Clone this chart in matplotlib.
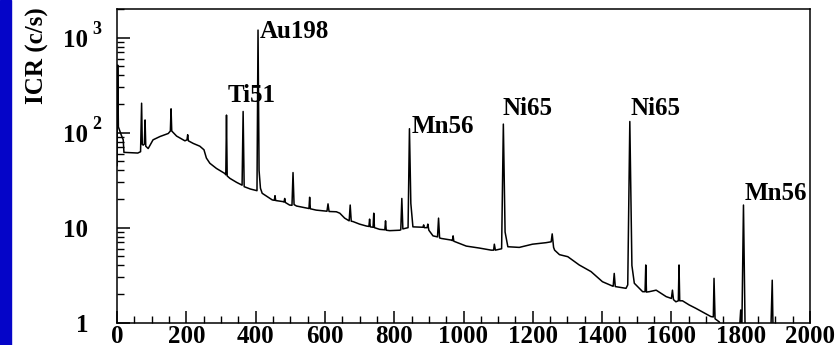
import matplotlib
matplotlib.use("Agg")
import matplotlib.pyplot as plt
from matplotlib.ticker import MultipleLocator, LogLocator, NullFormatter
from matplotlib.transforms import blended_transform_factory, offset_copy
from matplotlib.patches import Rectangle

plt.rcParams['font.family'] = ['Liberation Serif', 'DejaVu Serif']
plt.rcParams['font.weight'] = 'bold'

# spectrum: channel, count rate (c/s)
channel = [
    0, 2, 4, 12, 18, 20, 60, 68, 71, 73, 76, 79, 81, 83, 90, 104, 124, 148,
    154, 156, 158, 172, 196, 202, 204, 206, 220, 239, 251, 258, 268, 287, 311,
    314, 316, 318, 326, 345, 361, 364, 367, 385, 404, 407, 410, 414, 419, 448,
    454, 456, 458, 479, 482, 484, 486, 498, 505, 508, 511, 518, 551, 554, 556,
    558, 575, 606, 609, 612, 633, 643, 657, 670, 673, 676, 681, 700, 720, 727,
    729, 731, 739, 741, 743, 758, 773, 775, 777, 787, 816, 819, 822, 825, 840,
    844, 848, 854, 883, 885, 887, 895, 897, 900, 912, 925, 928, 931, 936, 965,
    968, 970, 972, 1008, 1046, 1080, 1087, 1089, 1092, 1110, 1115, 1120, 1128,
    1161, 1199, 1238, 1253, 1256, 1260, 1263, 1277, 1301, 1334, 1368, 1401,
    1430, 1432, 1435, 1438, 1469, 1474, 1480, 1486, 1493, 1517, 1524, 1526,
    1528, 1536, 1556, 1585, 1600, 1603, 1606, 1613, 1620, 1622, 1624, 1632,
    1651, 1670, 1689, 1714, 1721, 1723, 1726, 1738, 1750, 1795, 1800, 1803,
    1808, 1813, 1886, 1891, 1894, 2000,
]
counts = [
    45, 515, 115, 95, 84, 62, 61, 63, 204, 75, 74, 76, 136, 72, 68, 84, 91, 98,
    104, 178, 104, 92, 82, 84, 95, 82, 77, 72, 66, 54, 47.6, 42, 37.2,
    36, 153, 35, 33, 30, 28, 167, 27, 25.5, 24.5, 1200, 40, 26, 23, 19.6,
    19.4, 21.7, 19.3, 18.8, 18.6, 20.3, 18.4, 17.3, 17.2, 38, 17.5, 16.9, 16, 15.9, 20.9,
    15.8, 15.3, 14.9, 17.8, 14.8, 14.7, 14.2, 12.6, 11.8, 17.3, 11.7, 11.6, 10.9, 10.4, 10.3,
    12.3, 10.2, 10.1, 14.2, 10, 9.6, 9.5, 11.8, 9.4, 9.3, 9.4, 9.5, 20.3, 9.7, 10,
    110, 18, 10.2, 10.1, 10.7, 10, 10, 10.9, 9.4, 8.2, 8, 12.6, 7.8, 7.7, 7.4,
    7.3, 8.2, 7.2, 6.4, 6.1, 5.8, 5.8, 6.7, 5.8, 6.0, 123, 9, 6.3,
    6.2, 6.7, 6.95, 7.1, 8.6, 6.2, 5.8, 5.2, 4.95, 4.05, 3.45, 2.7,
    2.43, 2.42, 3.3, 2.4, 2.3, 2.5, 131, 4, 2.6, 2.12, 2.12, 4.05,
    2.1, 2.12, 2.2, 1.88, 1.8, 2.2, 1.75, 1.66, 1.7, 4.05, 1.7, 1.7,
    1.54, 1.42, 1.3, 1.16, 1.15, 2.93, 1.1, 1.02, 0.8, 0.7, 1.36, 0.7,
    17.3, 0.7, 0.6, 2.8, 0.6, 0.5,
]

# isotope labels
iso_names = ['Ti51', 'Au198', 'Mn56', 'Ni65', 'Ni65', 'Mn56']
iso_x = [320, 412, 849, 1113, 1483, 1810]
iso_y = [212, 993, 98.6, 153, 153, 19.6]

y_ticks = [1, 10, 100, 1000]
y_bases = ['1', '10', '10', '10']
y_exps = ['', '', '2', '3']

fig = plt.figure(figsize=(8.4, 3.45), dpi=100)
ax = fig.add_axes([117 / 840, 1 - 322.7 / 345, (810 - 117) / 840, (322.7 - 9) / 345])

ax.plot(channel, counts, color='black', lw=1.1)

ax.set_yscale('log')
ax.set_xlim(0, 2000)
ax.set_ylim(1, 2000)

for sp in ax.spines.values():
    sp.set_linewidth(1.1)

ax.xaxis.set_major_locator(MultipleLocator(200))
ax.xaxis.set_minor_locator(MultipleLocator(50))
ax.yaxis.set_major_locator(LogLocator(base=10, numticks=10))
ax.yaxis.set_minor_locator(LogLocator(base=10, subs=range(2, 10), numticks=20))
ax.yaxis.set_major_formatter(NullFormatter())
ax.yaxis.set_minor_formatter(NullFormatter())
ax.tick_params(axis='both', which='major', direction='in', length=9, width=1.1)
ax.tick_params(axis='both', which='minor', direction='in', length=5, width=1.0)
ax.tick_params(axis='x', labelsize=18, pad=1.5)
for lab in ax.get_xticklabels():
    lab.set_fontweight('bold')

# y labels in the 10 / superscript style
trans = blended_transform_factory(fig.transFigure, ax.transData)
for v, b, e in zip(y_ticks, y_bases, y_exps):
    t_base = offset_copy(trans, fig=fig, x=0, y=-7, units='points')
    ax.text(88 / 840, v, b, transform=t_base, ha='right', va='baseline',
            fontsize=18, fontweight='bold')
    if e:
        t_exp = offset_copy(trans, fig=fig, x=0, y=2.5, units='points')
        ax.text(92 / 840, v, e, transform=t_exp, ha='left', va='baseline',
                fontsize=13, fontweight='bold')

for name, x, y in zip(iso_names, iso_x, iso_y):
    ax.text(x, y, name, ha='left', va='baseline', fontsize=18, fontweight='bold')

fig.text(37 / 840, 1 - 7 / 345, 'ICR (c/s)', rotation=90, ha='center', va='top',
         fontsize=18, fontweight='bold')

fig.patches.append(Rectangle((0, 0), 11 / 840, 1, transform=fig.transFigure,
                             color='#0505c8', zorder=-1))

fig.savefig('out.png', dpi=100)
